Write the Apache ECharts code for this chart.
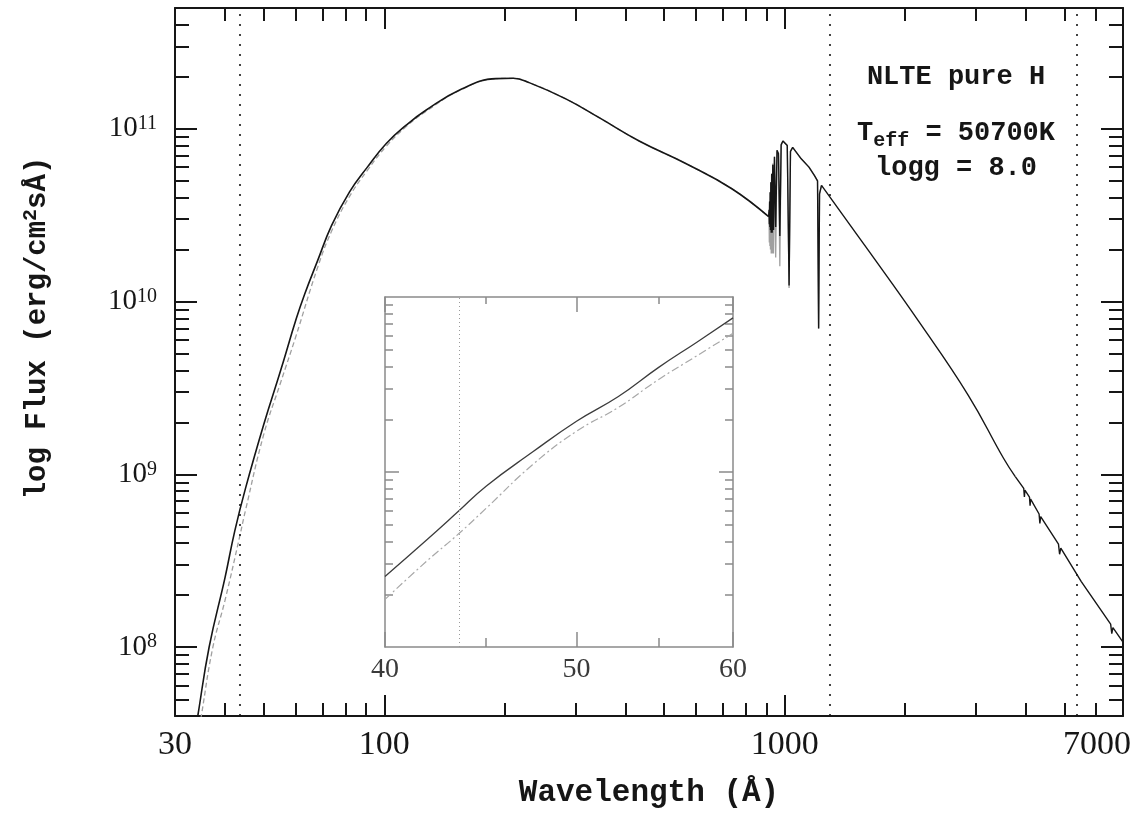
<!DOCTYPE html>
<html>
<head>
<meta charset="utf-8">
<script src="https://cdn.jsdelivr.net/npm/echarts@6/dist/echarts.min.js"></script>
<style>
  html, body { margin: 0; padding: 0; background: #fff; }
  #chart { width: 1137px; height: 814px; }
</style>
</head>
<body>
<div id="chart"></div>
<script>
// model spectra: [wavelength (A), flux (erg/cm2/s/A)]
const solidEuv = [
    [33.6, 3.1e7], [34.2, 4.0e7], [36.5, 1.0e8], [40, 2.53e8], [42.3, 4.7e8], [45, 8.3e8],
    [50, 1.95e9], [55, 3.95e9], [60.3, 8.0e9], [63.2, 1.1e10], [68.1, 1.72e10], [73.8, 2.75e10],
    [81.8, 4.3e10], [90.7, 6.0e10], [101, 8.2e10], [113.4, 1.05e11], [127, 1.28e11], [156, 1.70e11],
    [190, 1.95e11], [210, 1.96e11], [230, 1.85e11], [284, 1.49e11], [344, 1.16e11], [433, 8.5e10],
    [566, 6.3e10], [738, 4.5e10], [912, 3.1e10]
];
const solidLyman = [
    [912, 3.1e10], [914, 3.4e10], [915.5, 2.8e10], [917, 3.8e10], [918.5, 2.7e10], [920, 4.3e10],
    [921.5, 2.6e10], [923.5, 4.9e10], [925.5, 2.5e10], [928, 5.5e10], [930.7, 2.5e10], [934, 6.2e10],
    [937.8, 2.6e10], [943, 6.9e10], [949.7, 2.7e10], [957, 7.5e10], [965, 7.2e10], [972.5, 2.4e10],
    [980, 8.1e10], [990, 8.5e10], [1000, 8.5e10], [1015, 8.0e10], [1025.7, 1.24e10], [1034, 7.4e10],
    [1047, 7.8e10], [1100, 6.7e10], [1150, 6.0e10], [1185, 5.4e10], [1208, 5.0e10], [1215.7, 7.0e9],
    [1222, 4.2e10], [1236, 4.7e10]
];
const solidRed = [
    [1236, 4.7e10], [1620, 1.97e10], [2160, 7.7e9], [2875, 2.87e9], [3521, 1.24e9], [3767, 9.7e8]
];
const solidBalmer = [
    [3767, 9.7e8], [3955, 8.3e8], [3970, 7.4e8], [3982, 8.1e8], [4088, 7.4e8], [4102, 6.6e8],
    [4115, 7.2e8], [4320, 5.9e8], [4340, 5.2e8], [4360, 5.7e8], [4830, 3.95e8], [4861, 3.45e8],
    [4895, 3.75e8], [5507, 2.4e8], [6520, 1.36e8], [6563, 1.2e8], [6605, 1.3e8], [7000, 1.07e8]
];
const grayEuv = [
    [34.3, 3.1e7], [34.9, 4.0e7], [37.3, 1.0e8], [40, 1.87e8], [43.6, 4.45e8], [45, 6.2e8],
    [50, 1.71e9], [55, 3.37e9], [60, 6.2e9], [68.1, 1.57e10], [73.8, 2.55e10], [81.8, 4.05e10],
    [90.7, 5.75e10], [101, 7.9e10], [113.4, 1.03e11], [127, 1.26e11], [156, 1.69e11], [190, 1.95e11],
    [210, 1.96e11], [230, 1.85e11], [284, 1.49e11], [344, 1.16e11], [433, 8.5e10], [566, 6.3e10],
    [738, 4.5e10], [912, 3.1e10]
];
const grayLyman = [
    [912, 3.1e10], [914, 3.3e10], [915.5, 2.2e10], [917, 3.8e10], [918.5, 2.1e10], [920, 4.3e10],
    [921.5, 2.0e10], [923.5, 4.9e10], [925.5, 1.9e10], [928, 5.5e10], [930.7, 1.9e10], [934, 6.3e10],
    [937.8, 1.9e10], [943, 6.9e10], [949.7, 1.8e10], [957, 7.5e10], [965, 7.0e10], [972.5, 1.6e10],
    [980, 8.0e10], [990, 8.5e10], [1000, 8.5e10], [1015, 8.0e10], [1025.7, 1.2e10], [1034, 7.4e10],
    [1047, 7.8e10], [1100, 6.7e10], [1150, 6.0e10], [1185, 5.4e10], [1208, 5.0e10], [1215.7, 7.0e9],
    [1222, 4.2e10], [1236, 4.7e10]
];
const insetSolid = [
    [40, 2.53e8], [42, 4.1e8], [43.6, 6.0e8], [45, 8.3e8], [47.5, 1.3e9], [50, 1.95e9],
    [52.5, 2.7e9], [55, 3.95e9], [57.5, 5.5e9], [60, 7.6e9]
];
const insetGray = [
    [40, 1.87e8], [42, 3.1e8], [43.6, 4.45e8], [45, 6.2e8], [47.5, 1.1e9], [50, 1.71e9],
    [52.5, 2.34e9], [55, 3.37e9], [57.5, 4.6e9], [60, 6.2e9]
];
const markerLines = [43.6, 1295, 5380];

// ticks and labels
const xLabels = [30, 100, 1000, 7000];
const xMajor = [100, 1000];
const xMinor = [40, 50, 60, 70, 80, 90, 200, 300, 400, 500, 600, 700, 800, 900, 2000, 3000, 4000, 5000, 6000];
const yMajor = [1e8, 1e9, 1e10, 1e11];
const yMinor = [5e7, 6e7, 7e7, 8e7, 9e7, 2e8, 3e8, 4e8, 5e8, 6e8, 7e8, 8e8, 9e8,
    2e9, 3e9, 4e9, 5e9, 6e9, 7e9, 8e9, 9e9, 2e10, 3e10, 4e10, 5e10, 6e10, 7e10, 8e10, 9e10,
    2e11, 3e11, 4e11];
const insetXMajor = [40, 50, 60];
const insetXMinor = [45, 55];
const insetYMajor = [1e9];
const insetYMinor = [2e8, 3e8, 4e8, 5e8, 6e8, 7e8, 8e8, 9e8, 2e9, 3e9, 4e9, 5e9, 6e9, 7e9, 8e9, 9e9];

const INK = '#161616';
const INSET_INK = '#8a8a8a';
const MONO = '"Liberation Mono", monospace';
const SERIF = '"Liberation Serif", serif';

function tickAxis(gridIndex, position, min, max, ticks, len, color, width, showLine) {
    return {
        type: 'log', logBase: 10, gridIndex, position, min, max,
        axisLine: { show: showLine, onZero: false, lineStyle: { color, width } },
        axisTick: { show: true, inside: true, length: len, customValues: ticks, lineStyle: { color, width } },
        axisLabel: { show: false },
        splitLine: { show: false }
    };
}

const mainBottom = tickAxis(0, 'bottom', 30, 7000, xMajor, 21, INK, 2, true);
mainBottom.axisLabel = {
    show: true, customValues: xLabels, margin: 12, color: INK, fontFamily: SERIF, fontSize: 34,
    formatter: v => Math.round(v) === 7000 ? '{r|7000}' : String(Math.round(v)),
    rich: { r: { fontFamily: SERIF, fontSize: 34, color: INK, padding: [0, 52, 0, 0] } }
};
mainBottom.name = 'Wavelength (Å)';
mainBottom.nameLocation = 'middle';
mainBottom.nameGap = 62;
mainBottom.nameTextStyle = { fontFamily: MONO, fontWeight: 'bold', fontSize: 31, color: INK };

const mainLeft = tickAxis(0, 'left', 4e7, 5e11, yMajor, 22, INK, 2, true);
mainLeft.axisLabel = {
    show: true, customValues: yMajor, margin: 18,
    formatter: v => '{b|10}{s|' + Math.round(Math.log10(v)) + '}',
    rich: {
        b: { fontFamily: SERIF, fontSize: 29, color: INK, lineHeight: 30 },
        s: { fontFamily: SERIF, fontSize: 20, color: INK, lineHeight: 22, verticalAlign: 'top' }
    }
};
mainLeft.name = '{a|log Flux (erg/cm}{s|2}{a|sÅ)}';
mainLeft.nameLocation = 'middle';
mainLeft.nameGap = 120;
mainLeft.nameTextStyle = {
    padding: [0, 0, 0, 68],
    rich: {
        a: { fontFamily: MONO, fontWeight: 'bold', fontSize: 29, color: INK, lineHeight: 34 },
        s: { fontFamily: MONO, fontWeight: 'bold', fontSize: 20, color: INK, lineHeight: 26, verticalAlign: 'top' }
    }
};

const insetBottom = tickAxis(1, 'bottom', 40, 60, insetXMajor, 15, INSET_INK, 1.5, true);
insetBottom.axisLabel = {
    show: true, customValues: insetXMajor, margin: 9, color: '#3a3a3a', fontFamily: SERIF, fontSize: 28,
    formatter: v => String(Math.round(v))
};

const xAxes = [
    mainBottom,
    tickAxis(0, 'bottom', 30, 7000, xMinor, 13, INK, 2, false),
    tickAxis(0, 'top', 30, 7000, xMajor, 21, INK, 2, true),
    tickAxis(0, 'top', 30, 7000, xMinor, 13, INK, 2, false),
    insetBottom,
    tickAxis(1, 'bottom', 40, 60, insetXMinor, 9, INSET_INK, 1.5, false),
    tickAxis(1, 'top', 40, 60, insetXMajor, 15, INSET_INK, 1.5, true),
    tickAxis(1, 'top', 40, 60, insetXMinor, 7, INSET_INK, 1.5, false)
];
const yAxes = [
    mainLeft,
    tickAxis(0, 'left', 4e7, 5e11, yMinor, 14, INK, 2, false),
    tickAxis(0, 'right', 4e7, 5e11, yMajor, 22, INK, 2, true),
    tickAxis(0, 'right', 4e7, 5e11, yMinor, 14, INK, 2, false),
    tickAxis(1, 'left', 1e8, 1e10, insetYMajor, 14, INSET_INK, 1.5, true),
    tickAxis(1, 'left', 1e8, 1e10, insetYMinor, 8, INSET_INK, 1.5, false),
    tickAxis(1, 'right', 1e8, 1e10, insetYMajor, 14, INSET_INK, 1.5, true),
    tickAxis(1, 'right', 1e8, 1e10, insetYMinor, 8, INSET_INK, 1.5, false)
];

function curve(data, grid, color, width, type, smooth, z) {
    return {
        type: 'line', data, xAxisIndex: grid * 4, yAxisIndex: grid * 4,
        showSymbol: false, smooth, z, silent: true,
        lineStyle: { color, width, type }
    };
}

const chart = echarts.init(document.getElementById('chart'), null, { renderer: 'canvas' });
chart.setOption({
    animation: false,
    backgroundColor: '#fff',
    grid: [
        { left: 175, top: 8, width: 948, height: 709 },
        { left: 385, top: 297, width: 348, height: 350 }
    ],
    xAxis: xAxes,
    yAxis: yAxes,
    series: [
        curve(grayEuv, 0, '#a0a0a0', 1.3, [5, 3], 0.45, 2),
        curve(grayLyman, 0, '#a0a0a0', 1.3, 'solid', false, 2),
        curve(solidEuv, 0, INK, 1.6, 'solid', 0.45, 3),
        curve(solidLyman, 0, INK, 1.4, 'solid', false, 3),
        curve(solidRed, 0, INK, 1.4, 'solid', 0.45, 3),
        curve(solidBalmer, 0, INK, 1.4, 'solid', false, 3),
        {
            type: 'line', data: [], xAxisIndex: 0, yAxisIndex: 0,
            markLine: {
                silent: true, symbol: 'none', label: { show: false },
                lineStyle: { color: INK, width: 1.6, type: [2, 8] },
                data: markerLines.map(v => ({ xAxis: v }))
            }
        },
        curve(insetGray, 1, '#a8a8a8', 1.2, [8, 3, 2, 3], 0.45, 2),
        curve(insetSolid, 1, '#3c3c3c', 1.3, 'solid', 0.45, 3),
        {
            type: 'line', data: [], xAxisIndex: 4, yAxisIndex: 4,
            markLine: {
                silent: true, symbol: 'none', label: { show: false },
                lineStyle: { color: '#9a9a9a', width: 1, type: [1, 3] },
                data: [{ xAxis: markerLines[0] }]
            }
        }
    ],
    graphic: [
        {
            type: 'text', x: 956, y: 77,
            style: { text: 'NLTE pure H', font: 'bold 27px ' + MONO, fill: INK, align: 'center', verticalAlign: 'middle' }
        },
        {
            type: 'text', x: 956, y: 133,
            style: {
                text: '{t|T}{e|eff}{t| = 50700K}', align: 'center', verticalAlign: 'middle',
                rich: {
                    t: { fontFamily: MONO, fontWeight: 'bold', fontSize: 27, fill: INK, lineHeight: 36 },
                    e: { fontFamily: MONO, fontWeight: 'bold', fontSize: 20, fill: INK, lineHeight: 36, verticalAlign: 'bottom' }
                }
            }
        },
        {
            type: 'text', x: 956, y: 168,
            style: { text: 'logg = 8.0', font: 'bold 27px ' + MONO, fill: INK, align: 'center', verticalAlign: 'middle' }
        }
    ]
});
</script>
</body>
</html>
